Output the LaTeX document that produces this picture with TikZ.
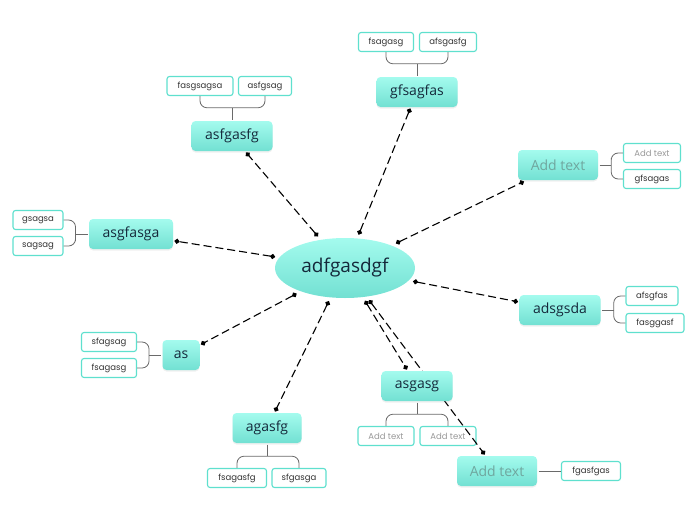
\documentclass[tikz,border=0pt]{standalone}
\usepackage{fontspec}
\setmainfont{Open Sans}
\newfontfamily\subfont{Poppins}
\usepackage{tikz}
\usetikzlibrary{shapes.geometric, arrows.meta, positioning, calc, shadows, backgrounds}
\definecolor{aquaTop}{HTML}{A4FBEE}
\definecolor{aquaBot}{HTML}{72E0D2}
\definecolor{aquaLine}{HTML}{5FE0CE}
\definecolor{inkNavy}{HTML}{14283A}
\definecolor{hintGray}{HTML}{6FA69E}
\definecolor{branchGray}{HTML}{6A6A6A}
\pgfdeclarelayer{subs}
\pgfdeclarelayer{links}
\pgfsetlayers{subs,links,main}
\tikzset{
    box_topic/.style={
        rectangle, rounded corners=4pt, draw=none,
        top color=aquaTop, bottom color=aquaBot,
        minimum height=30pt, inner xsep=8pt, outer sep=1.5pt,
        font=\fontsize{14}{16}\selectfont, text=inkNavy,
        drop shadow={opacity=0.12, shadow xshift=0pt, shadow yshift=-1.5pt}
    },
    box_hint/.style={box_topic, text=hintGray},
    box_hub/.style={
        ellipse, draw=none, top color=aquaTop, bottom color=aquaBot,
        minimum width=140pt, minimum height=60pt, outer sep=4pt,
        font=\fontsize{19}{22}\selectfont, text=inkNavy
    },
    box_sub/.style={
        rectangle, rounded corners=2.5pt, draw=aquaLine, line width=1.1pt, fill=white,
        minimum height=19pt, inner xsep=4pt,
        font=\subfont\fontsize{8.5}{10}\selectfont, text=black!80
    },
    sub_hint/.style={box_sub, text=black!40},
    link_dash/.style={
        line width=1.1pt, dash pattern=on 8pt off 4pt,
        {Circle[length=5pt]}-{Circle[length=5pt]}
    },
    branch_line/.style={draw=branchGray, line width=0.8pt, rounded corners=7pt}
}

\begin{document}
\begin{tikzpicture}[x=1pt, y=-1pt]
    \useasboundingbox (0,0) rectangle (697,520);

    % central topic
    \node[box_hub] (hub) at (345,268) {adfgasdgf};

    % main topics
    \node[box_topic, minimum width=81pt] (t_asfg) at (232,136) {asfgasfg};
    \node[box_topic, minimum width=81pt] (t_gfsa) at (417,92) {gfsagfas};
    \node[box_hint, minimum width=80pt] (t_hintA) at (558,165) {Add text};
    \node[box_topic, minimum width=84pt] (t_asgf) at (131,234) {asgfasga};
    \node[box_topic, minimum width=81pt] (t_adsg) at (560,310) {adsgsda};
    \node[box_topic, minimum width=37pt] (t_as) at (181,355) {as};
    \node[box_topic, minimum width=69pt] (t_agas) at (267,428) {agasfg};
    \node[box_topic, minimum width=71pt] (t_asga) at (417,386) {asgasg};
    \node[box_hint, minimum width=80pt] (t_hintB) at (497,471) {Add text};

    % subtopics
    \begin{pgfonlayer}{subs}
    \node[box_sub, minimum width=66pt] (s_asfg1) at (200,86) {fasgsagsa};
    \node[box_sub, minimum width=53pt] (s_asfg2) at (265,86) {asfgsag};
    \node[box_sub, minimum width=55pt] (s_gfsa1) at (386,42) {fsagasg};
    \node[box_sub, minimum width=57pt] (s_gfsa2) at (448,42) {afsgasfg};
    \node[sub_hint, minimum width=57pt] (s_hintA1) at (652,153) {Add text};
    \node[box_sub, minimum width=57pt] (s_hintA2) at (652,179) {gfsagas};
    \node[box_sub, minimum width=50pt] (s_asgf1) at (38,220) {gsagsa};
    \node[box_sub, minimum width=50pt] (s_asgf2) at (38,246) {sagsag};
    \node[box_sub, minimum width=52pt] (s_adsg1) at (652,296) {afsgfas};
    \node[box_sub, minimum width=58pt] (s_adsg2) at (655,323) {fasggasf};
    \node[box_sub, minimum width=55pt] (s_as1) at (109,342) {sfagsag};
    \node[box_sub, minimum width=55pt] (s_as2) at (109,368) {fsagasg};
    \node[box_sub, minimum width=59pt] (s_agas1) at (237,478) {fsagasfg};
    \node[box_sub, minimum width=54pt] (s_agas2) at (299,478) {sfgasga};
    \node[sub_hint, minimum width=56pt] (s_asga1) at (386,436) {Add text};
    \node[sub_hint, minimum width=56pt] (s_asga2) at (448,436) {Add text};
    \node[box_sub, minimum width=59pt] (s_hintB1) at (591,471) {fgasfgas};

    % branch brackets
    \coordinate (j_asfg) at ($(t_asfg.north)!0.5!(t_asfg.north |- s_asfg1.south)$);
    \draw[branch_line] (s_asfg1.south) |- (j_asfg) -| (s_asfg2.south);
    \draw[branch_line] (t_asfg.north) -- (j_asfg);
    \coordinate (j_gfsa) at ($(t_gfsa.north)!0.5!(t_gfsa.north |- s_gfsa1.south)$);
    \draw[branch_line] (s_gfsa1.south) |- (j_gfsa) -| (s_gfsa2.south);
    \draw[branch_line] (t_gfsa.north) -- (j_gfsa);
    \coordinate (j_hintA) at ($(t_hintA.east)!0.5!(t_hintA.east -| s_hintA1.west)$);
    \draw[branch_line] (s_hintA1.west) -| (j_hintA) |- (s_hintA2.west);
    \draw[branch_line] (t_hintA.east) -- (j_hintA);
    \coordinate (j_asgf) at ($(t_asgf.west)!0.5!(t_asgf.west -| s_asgf1.east)$);
    \draw[branch_line] (s_asgf1.east) -| (j_asgf) |- (s_asgf2.east);
    \draw[branch_line] (t_asgf.west) -- (j_asgf);
    \coordinate (j_adsg) at ($(t_adsg.east)!0.5!(t_adsg.east -| s_adsg1.west)$);
    \draw[branch_line] (s_adsg1.west) -| (j_adsg) |- (s_adsg2.west);
    \draw[branch_line] (t_adsg.east) -- (j_adsg);
    \coordinate (j_as) at ($(t_as.west)!0.5!(t_as.west -| s_as1.east)$);
    \draw[branch_line] (s_as1.east) -| (j_as) |- (s_as2.east);
    \draw[branch_line] (t_as.west) -- (j_as);
    \coordinate (j_agas) at ($(t_agas.south)!0.5!(t_agas.south |- s_agas1.north)$);
    \draw[branch_line] (s_agas1.north) |- (j_agas) -| (s_agas2.north);
    \draw[branch_line] (t_agas.south) -- (j_agas);
    \coordinate (j_asga) at ($(t_asga.south)!0.5!(t_asga.south |- s_asga1.north)$);
    \draw[branch_line] (s_asga1.north) |- (j_asga) -| (s_asga2.north);
    \draw[branch_line] (t_asga.south) -- (j_asga);
    \draw[branch_line] (t_hintB.east) -- (s_hintB1.west);
    \end{pgfonlayer}

    % dashed links from the hub
    \begin{pgfonlayer}{links}
    \foreach \tgt in {t_asfg, t_gfsa, t_hintA, t_asgf, t_adsg, t_as, t_agas, t_asga, t_hintB}
        \draw[link_dash] (hub) -- (\tgt);
    \end{pgfonlayer}
\end{tikzpicture}
\end{document}
